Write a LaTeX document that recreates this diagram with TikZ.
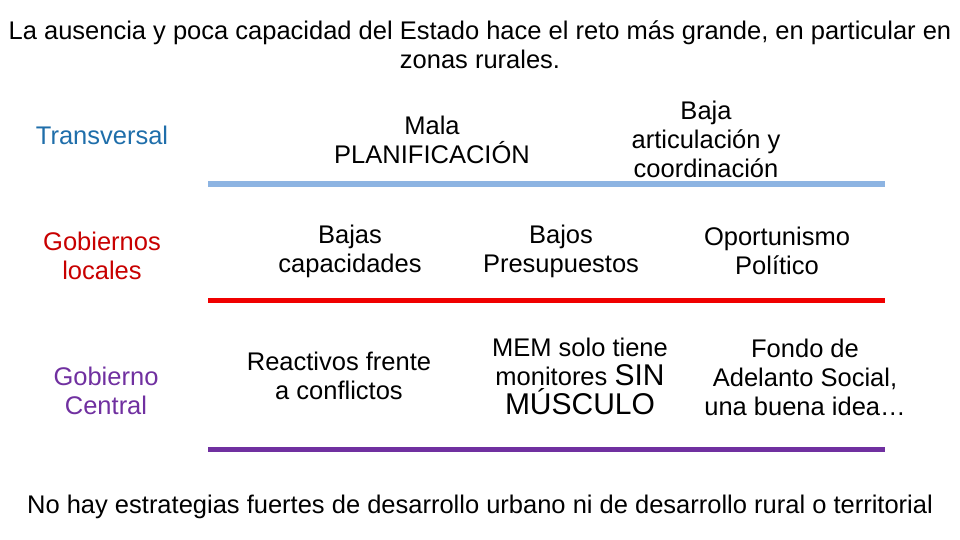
\documentclass[tikz,border=0pt]{standalone}
\usepackage{fontspec}
\setmainfont{Liberation Sans}
\definecolor{tblue}{RGB}{31,110,170}
\definecolor{tred}{RGB}{200,0,0}
\definecolor{tpurple}{RGB}{112,48,160}
\definecolor{lblue}{RGB}{141,180,226}
\definecolor{lred}{RGB}{240,0,0}
\begin{document}
\begin{tikzpicture}[x=1pt,y=-1pt,
  txt/.style={align=center,font=\fontsize{25.5}{29}\selectfont,inner sep=0pt},
  bar/.style={line width=5pt}]
\useasboundingbox (0,0) rectangle (960,540);
\node[txt] (title) at (480,45) {La ausencia y poca capacidad del Estado hace el reto más grande, en particular en\\zonas rurales.};
\node[txt,text=tblue] (tr) at (102,135) {Transversal};
\node[txt,text=tred] (gl) at (102,256) {Gobiernos\\locales};
\node[txt,text=tpurple] (gc) at (106,391) {Gobierno\\Central};
\node[txt] (mp) at (432,140) {Mala\\PLANIFICACIÓN};
\node[txt] (ba) at (706,139) {Baja\\articulación y\\coordinación};
\node[txt] (bc) at (350,251) {Bajas\\capacidades};
\node[txt] (bp) at (561,251) {Bajos\\Presupuestos};
\node[txt] (op) at (777,251) {Oportunismo\\Político};
\node[txt] (re) at (339,376) {Reactivos frente\\a conflictos};
\node[txt] (mem) at (580,376) {MEM solo tiene\\monitores {\fontsize{30}{29}\selectfont SIN}\\{\fontsize{30}{29}\selectfont MÚSCULO}};
\node[txt] (fo) at (805,377) {Fondo de\\Adelanto Social,\\una buena idea…};
\node[txt] (bot) at (480,507) {No hay estrategias fuertes de desarrollo urbano ni de desarrollo rural o territorial};
\coordinate (b1) at (208,184); \coordinate (b2) at (885,184);
\coordinate (r1) at (208,300); \coordinate (r2) at (885,300);
\coordinate (p1) at (208,449); \coordinate (p2) at (885,449);
\draw[bar,lblue] (b1) -- (b2);
\draw[bar,lred] (r1) -- (r2);
\draw[bar,tpurple] (p1) -- (p2);
\end{tikzpicture}
\end{document}
